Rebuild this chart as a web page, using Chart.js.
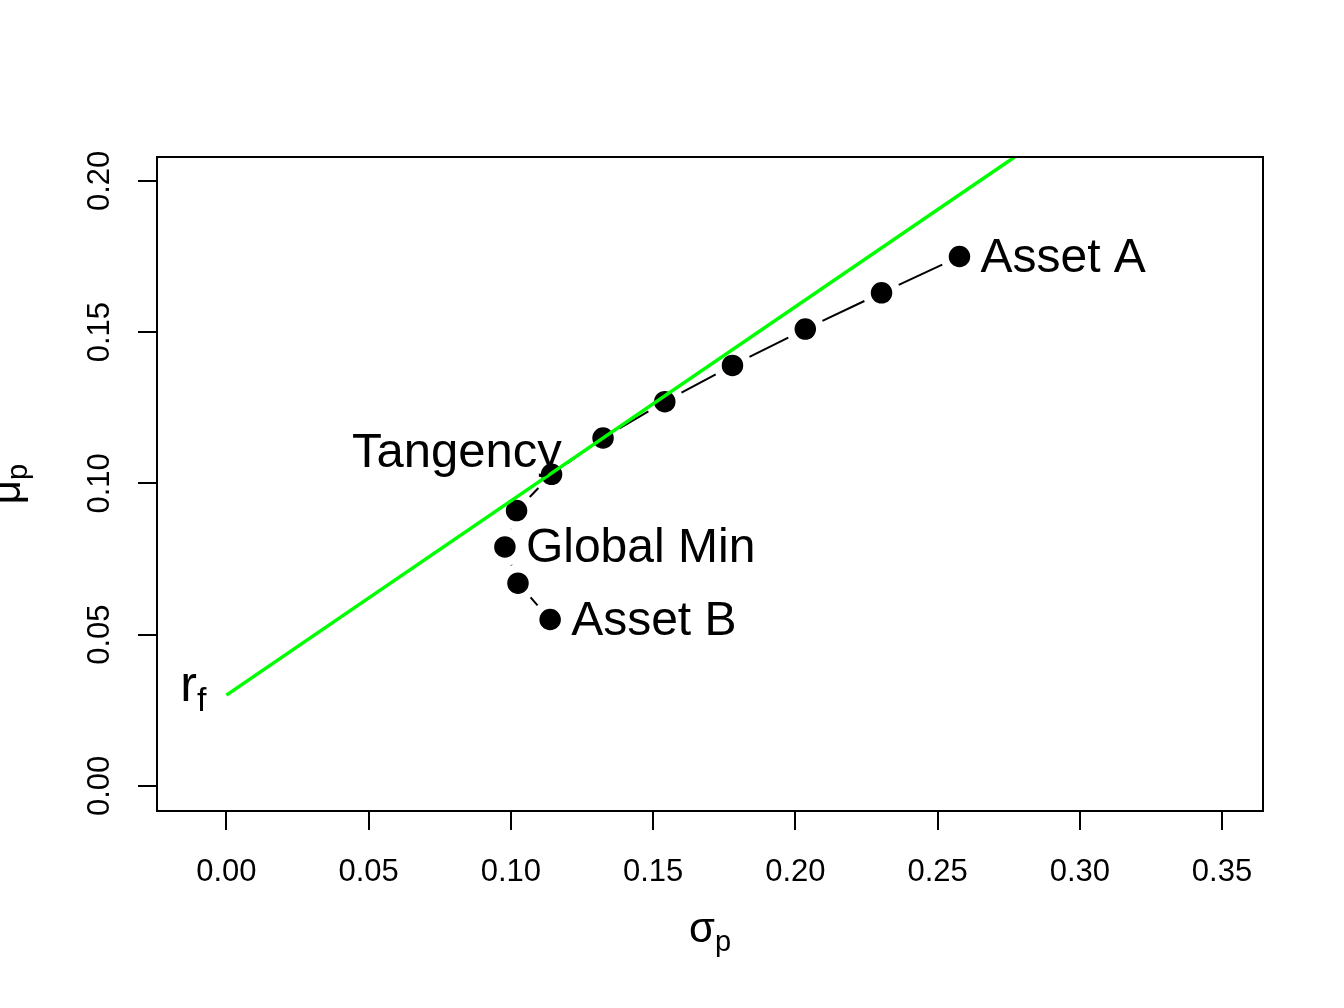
<!DOCTYPE html>
<html lang="en">
<head>
<meta charset="UTF-8">
<title>Frontier and tangency line</title>
<style>
  html, body { margin: 0; padding: 0; background: #fff; }
  #wrap { width: 1344px; height: 1008px; position: relative; }
</style>
</head>
<body>
<div id="wrap"><canvas id="chart"></canvas></div>

<script src="https://cdn.jsdelivr.net/npm/chart.js"></script>
<script>
// portfolios of asset B and asset A, weight in A going 0, 0.1, ... 1
const sigmaP = [0.1138, 0.1025, 0.0979, 0.1020, 0.1143, 0.1324, 0.1541, 0.1779, 0.2035, 0.2303, 0.2577];
const muP    = [0.055, 0.067, 0.079, 0.091, 0.103, 0.115, 0.127, 0.139, 0.151, 0.163, 0.175];

// risk free rate and the green line (start at rf, leaves the plot at the top)
const rf = 0.03;
const lineSigma = [0, 0.2771];
const lineMu = [rf, 0.2079];
const tanSigma = 0.1253;
const tanMu = 0.1105;

const xTicks = [0, 0.05, 0.10, 0.15, 0.20, 0.25, 0.30, 0.35];
const yTicks = [0, 0.05, 0.10, 0.15, 0.20];
const xLim = [-0.0244, 0.3644];
const yLim = [-0.0083, 0.2079];

const FONT = "'Liberation Sans', Arial, sans-serif";

// R type="b": line stops short of every point
function gapDash(ctx) {
    const L = Math.hypot(ctx.p1.x - ctx.p0.x, ctx.p1.y - ctx.p0.y);
    const g = 19;
    if (L <= 2 * g) return [0, L + 100];
    return [0, g, L - 2 * g, g + 100];
}

const decor = {
    id: 'decor',
    afterDraw(chart) {
        const { ctx, chartArea: a, scales: { x, y } } = chart;
        ctx.save();

        // box round the plot
        ctx.strokeStyle = '#000';
        ctx.lineWidth = 2;
        ctx.strokeRect(a.left, a.top, a.right - a.left, a.bottom - a.top);

        // y tick labels, turned
        ctx.fillStyle = '#000';
        ctx.font = '31px ' + FONT;
        ctx.textAlign = 'center';
        ctx.textBaseline = 'middle';
        yTicks.forEach(v => {
            ctx.save();
            ctx.translate(a.left - 57, y.getPixelForValue(v));
            ctx.rotate(-Math.PI / 2);
            ctx.fillText(v.toFixed(2), 0, 0);
            ctx.restore();
        });

        // point labels
        ctx.textBaseline = 'alphabetic';
        ctx.font = '48px ' + FONT;
        const right = (txt, i) => {
            ctx.textAlign = 'left';
            ctx.fillText(txt, x.getPixelForValue(sigmaP[i]) + 21, y.getPixelForValue(muP[i]) + 15);
        };
        right('Asset A', sigmaP.length - 1);
        right('Asset B', 0);
        right('Global Min', 2);

        ctx.textAlign = 'right';
        ctx.font = '49px ' + FONT;
        ctx.fillText('Tangency', x.getPixelForValue(tanSigma) - 21, y.getPixelForValue(tanMu) + 15);

        // r_f
        const rx = x.getPixelForValue(0) - 20;
        const ry = y.getPixelForValue(rf);
        ctx.font = '34px ' + FONT;
        const fw = ctx.measureText('f').width;
        ctx.fillText('f', rx, ry + 16);
        ctx.font = '50px ' + FONT;
        ctx.fillText('r', rx - fw, ry + 6);

        // axis titles
        ctx.textAlign = 'left';
        ctx.font = '42px ' + FONT;
        const sw = ctx.measureText('σ').width;
        ctx.font = '29px ' + FONT;
        const pw = ctx.measureText('p').width;
        const sx = (a.left + a.right) / 2 - (sw + pw) / 2;
        ctx.font = '42px ' + FONT;
        ctx.fillText('σ', sx, a.bottom + 131);
        ctx.font = '29px ' + FONT;
        ctx.fillText('p', sx + sw, a.bottom + 140);

        ctx.save();
        ctx.translate(20, (a.top + a.bottom) / 2);
        ctx.rotate(-Math.PI / 2);
        ctx.font = '42px ' + FONT;
        const mw = ctx.measureText('μ').width;
        const mx = -(mw + pw) / 2;
        ctx.fillText('μ', mx, 0);
        ctx.font = '29px ' + FONT;
        ctx.fillText('p', mx + mw, 7);
        ctx.restore();

        ctx.restore();
    }
};

new Chart(document.getElementById('chart'), {
    type: 'scatter',
    data: {
        datasets: [
            {
                label: 'tangency line',
                data: lineSigma.map((s, i) => ({ x: s, y: lineMu[i] })),
                showLine: true,
                borderColor: '#00ff00',
                borderWidth: 3.5,
                pointRadius: 0,
                borderCapStyle: 'butt'
            },
            {
                label: 'portfolios',
                data: sigmaP.map((s, i) => ({ x: s, y: muP[i] })),
                showLine: true,
                borderColor: '#000',
                borderWidth: 2,
                pointRadius: 10,
                pointBackgroundColor: '#000',
                pointBorderColor: '#000',
                pointBorderWidth: 1.5,
                segment: { borderDash: gapDash }
            }
        ]
    },
    options: {
        responsive: true,
        maintainAspectRatio: false,
        animation: false,
        layout: { padding: { top: 157, right: 81, left: 0, bottom: 0 } },
        plugins: {
            legend: { display: false },
            tooltip: { enabled: false }
        },
        scales: {
            x: {
                type: 'linear',
                min: xLim[0],
                max: xLim[1],
                afterBuildTicks: s => { s.ticks = xTicks.map(v => ({ value: v })); },
                afterFit: s => { s.height = 197; },
                grid: { drawOnChartArea: false, drawTicks: true, tickLength: 19, color: '#000', lineWidth: 2 },
                border: { display: false },
                ticks: {
                    font: { size: 31, family: FONT },
                    color: '#000',
                    padding: 24,
                    maxRotation: 0,
                    autoSkip: false,
                    callback: v => v.toFixed(2)
                }
            },
            y: {
                type: 'linear',
                min: yLim[0],
                max: yLim[1],
                afterBuildTicks: s => { s.ticks = yTicks.map(v => ({ value: v })); },
                afterFit: s => { s.width = 157; },
                grid: { drawOnChartArea: false, drawTicks: true, tickLength: 19, color: '#000', lineWidth: 2 },
                border: { display: false },
                ticks: { display: false }
            }
        }
    },
    plugins: [decor]
});
</script>
</body>
</html>
